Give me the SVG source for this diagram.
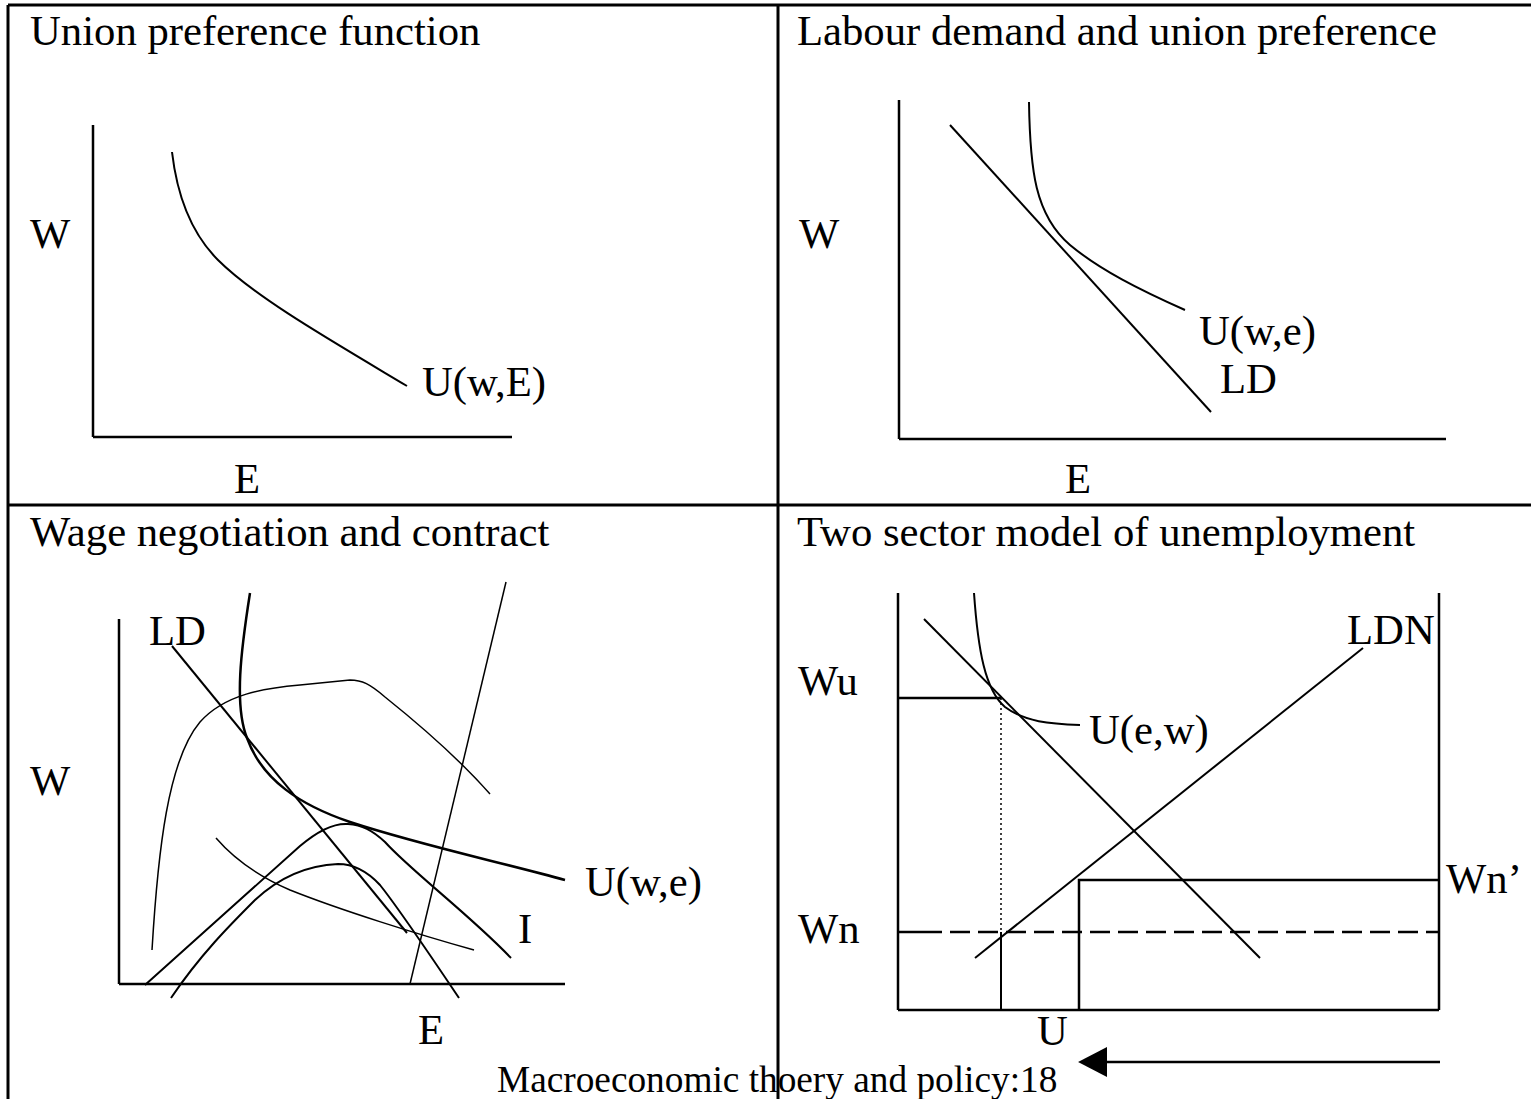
<svg xmlns="http://www.w3.org/2000/svg" width="1531" height="1099" viewBox="0 0 1531 1099">
<style>
text{font-family:"Liberation Serif","Times New Roman",serif;font-size:42.7px;fill:#000}
.small{font-size:37.3px}
.frame{stroke:#000;stroke-width:3;fill:none}
.axis{stroke:#000;stroke-width:2.5;fill:none}
.c{stroke:#000;stroke-width:2;fill:none}
.t{stroke:#000;stroke-width:1.5;fill:none}
.dot{stroke:#000;stroke-width:1.5;fill:none;stroke-dasharray:2,3}
.dash{stroke:#000;stroke-width:2.5;fill:none;stroke-dasharray:20,8}
</style>
<defs>
<marker id="ah" markerUnits="userSpaceOnUse" markerWidth="30" markerHeight="30" viewBox="0 0 28 28" refX="0" refY="14" orient="auto">
<path d="M0,0 L27,14 L0,28 z" fill="#000"/>
</marker>
</defs>
<rect width="1531" height="1099" fill="#fff"/>
<g id="frame">
<line class="frame" x1="8" y1="5" x2="1531" y2="5"/>
<line class="frame" x1="8" y1="5" x2="8" y2="1099"/>
<line class="frame" x1="778" y1="5" x2="778" y2="1099"/>
<line class="frame" x1="8" y1="505" x2="1531" y2="505"/>
</g>
<g id="panel-union-preference">
<text x="30" y="45">Union preference function</text>
<line class="axis" x1="93" y1="125" x2="93" y2="437"/>
<line class="axis" x1="93" y1="437" x2="512" y2="437"/>
<path class="c" d="M172,152 C177,195 190,232 218,260 C255,297 330,340 407,386"/>
<text x="30" y="248">W</text>
<text x="422" y="396">U(w,E)</text>
<text x="234" y="493">E</text>
</g>
<g id="panel-labour-demand">
<text x="797" y="45">Labour demand and union preference</text>
<line class="axis" x1="899" y1="100" x2="899" y2="439"/>
<line class="axis" x1="899" y1="439" x2="1446" y2="439"/>
<line class="c" x1="950" y1="125" x2="1211" y2="412"/>
<path class="c" d="M1029,102 C1030,170 1035,215 1070,245 C1100,270 1140,290 1185,310"/>
<text x="799" y="248">W</text>
<text x="1199" y="345">U(w,e)</text>
<text x="1220" y="393">LD</text>
<text x="1065" y="493">E</text>
</g>
<g id="panel-wage-negotiation">
<text x="30" y="546">Wage negotiation and contract</text>
<line class="axis" x1="119" y1="619" x2="119" y2="984"/>
<line class="axis" x1="119" y1="984" x2="565" y2="984"/>
<line class="c" x1="172" y1="646" x2="407" y2="933"/>
<path class="c" style="stroke-width:2.5" d="M250,593 C241,650 234,705 247,738 C262,780 300,805 350,822 C420,845 500,862 565,880"/>
<path class="t" d="M152,950 C158,850 168,760 200,722 C225,694 265,688 300,685 L350,680 C362,680 370,684 385,697 C420,725 460,760 490,794"/>
<path class="c" d="M145,985 L300,846 C320,829 335,823 348,824 C362,825 372,830 385,842 C410,870 470,915 511,958"/>
<path class="c" d="M171,998 C200,955 230,925 255,900 C285,872 315,865 338,864 C355,864 368,872 380,885 C400,910 430,955 459,998"/>
<path class="t" d="M216,838 C235,860 260,877 290,890 C340,910 420,935 474,950"/>
<line class="t" x1="506" y1="582" x2="410" y2="984"/>
<text x="149" y="645">LD</text>
<text x="30" y="795">W</text>
<text x="585" y="896">U(w,e)</text>
<text x="518" y="943">I</text>
<text x="418" y="1044">E</text>
</g>
<g id="panel-two-sector">
<text x="797" y="546">Two sector model of unemployment</text>
<line class="axis" x1="898" y1="593" x2="898" y2="1010"/>
<line class="axis" x1="1439" y1="593" x2="1439" y2="1010"/>
<line class="axis" x1="898" y1="1010" x2="1439" y2="1010"/>
<line class="axis" x1="898" y1="698" x2="1001" y2="698"/>
<line class="dot" x1="1001" y1="698" x2="1001" y2="932"/>
<line class="c" x1="1001" y1="932" x2="1001" y2="1010"/>
<line class="axis" x1="898" y1="932" x2="942" y2="932"/>
<line class="dash" x1="950" y1="932" x2="1439" y2="932"/>
<polyline class="axis" points="1079,1010 1079,880 1439,880"/>
<line class="c" x1="924" y1="619" x2="1260" y2="958"/>
<path class="c" d="M974,593 C978,650 985,690 1005,707 C1025,722 1050,724 1080,725"/>
<line class="c" x1="975" y1="958" x2="1363" y2="648"/>
<text x="798" y="695">Wu</text>
<text x="1089" y="744">U(e,w)</text>
<text x="1347" y="644">LDN</text>
<text x="1446" y="893">Wn’</text>
<text x="798" y="943">Wn</text>
<text x="1037" y="1045">U</text>
</g>
<g id="connectors">
<line class="axis" x1="1440" y1="1062" x2="1107" y2="1062" marker-end="url(#ah)"/>
</g>
<text class="small" x="497" y="1092">Macroeconomic thoery and policy:18</text>
</svg>
